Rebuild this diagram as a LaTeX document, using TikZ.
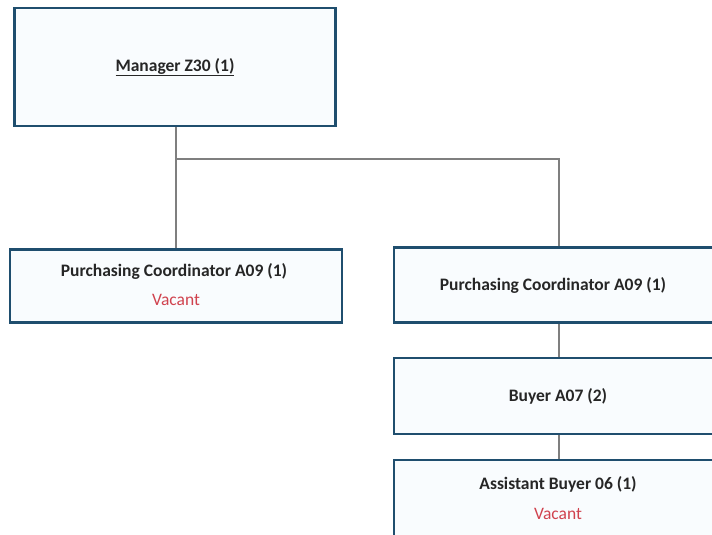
\documentclass[tikz,border=0pt]{standalone}
\usepackage{fontspec}
\setmainfont{Carlito}
\begin{document}
\begin{tikzpicture}[x=1pt,y=-1pt,
  box/.style={draw=boxblue,line width=2.6pt,fill=boxfill,rectangle,inner sep=0pt},
  lbl/.style={font=\bfseries\fontsize{17.5}{20}\selectfont,text=txt},
  vac/.style={font=\fontsize{17.5}{20}\selectfont,text=vacred},
  conn/.style={draw=linegray,line width=2.8pt}]
\definecolor{boxblue}{HTML}{1F4E6E}
\definecolor{boxfill}{HTML}{F9FCFE}
\definecolor{linegray}{HTML}{7F7F7F}
\definecolor{txt}{HTML}{262626}
\definecolor{vacred}{HTML}{D0424E}
\useasboundingbox (0,0) rectangle (712,535);
\clip (0,0) rectangle (712,535);
% boxes
\node[box,minimum width=321pt,minimum height=118pt] (mgr) at (175,67) {};
\node[lbl] (mgrt) at (mgr.center) {\underline{Manager Z30 (1)}};
\node[box,minimum width=332pt,minimum height=73pt] (pc1) at (176,286) {};
\node[lbl] (pc1t) at (174,271) {Purchasing Coordinator A09 (1)};
\node[vac] (pc1v) at (176,300) {Vacant};
\node[box,minimum width=322pt,minimum height=75pt] (pc2) at (555,285) {};
\node[lbl] (pc2t) at (553,285) {Purchasing Coordinator A09 (1)};
\node[box,minimum width=322pt,minimum height=76pt] (buy) at (555,396) {};
\node[lbl] (buyt) at (558,396) {Buyer A07 (2)};
\node[box,minimum width=322pt,minimum height=80pt] (ast) at (555,500) {};
\node[lbl] (astt) at (558,484) {Assistant Buyer 06 (1)};
\node[vac] (astv) at (558,514) {Vacant};
% connectors
\coordinate (j1) at (176,159);
\coordinate (j2) at (559,159);
\draw[conn] (mgr.south -| j1) -- (pc1.north -| j1);
\draw[conn] (j1) -- (j2) -- (pc2.north -| j2);
\draw[conn] (pc2.south -| j2) -- (buy.north -| j2);
\draw[conn] (buy.south -| j2) -- (ast.north -| j2);
\end{tikzpicture}
\end{document}
